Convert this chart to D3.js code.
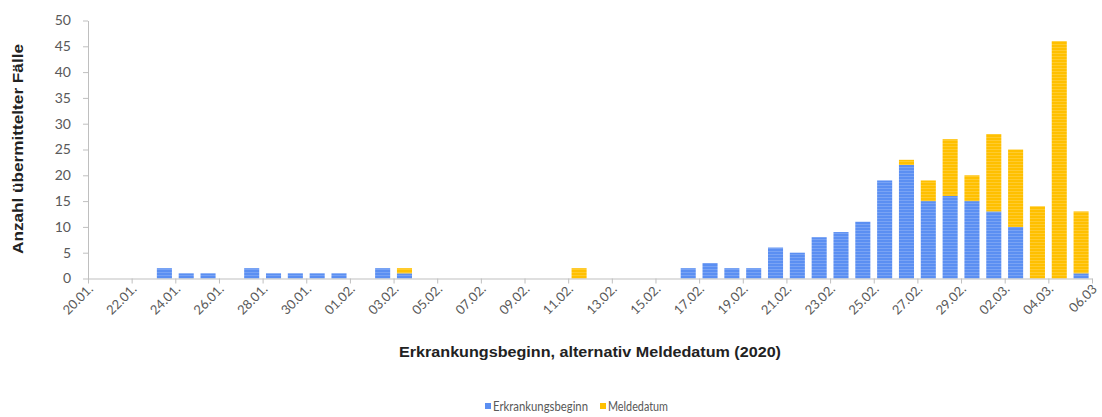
<!DOCTYPE html>
<html>
<head>
<meta charset="utf-8">
<script src="https://cdn.jsdelivr.net/npm/d3@7/dist/d3.min.js"></script>
<style>
  html, body { margin: 0; padding: 0; background: #fff; }
  svg { display: block; }
</style>
</head>
<body>
<svg id="chart" width="1102" height="417"></svg>
<script>
// ---- data ----
const dates = [
  "20.01.","21.01.","22.01.","23.01.","24.01.","25.01.","26.01.","27.01.","28.01.","29.01.",
  "30.01.","31.01.","01.02.","02.02.","03.02.","04.02.","05.02.","06.02.","07.02.","08.02.",
  "09.02.","10.02.","11.02.","12.02.","13.02.","14.02.","15.02.","16.02.","17.02.","18.02.",
  "19.02.","20.02.","21.02.","22.02.","23.02.","24.02.","25.02.","26.02.","27.02.","28.02.",
  "29.02.","01.03.","02.03.","03.03.","04.03.","05.03."
];
const erkrankungsbeginn = [
  0,0,0,2,1,1,0,2,1,1,
  1,1,0,2,1,0,0,0,0,0,
  0,0,0,0,0,0,0,2,3,2,
  2,6,5,8,9,11,19,22,15,16,
  15,13,10,0,0,1
];
const meldedatum = [
  0,0,0,0,0,0,0,0,0,0,
  0,0,0,0,1,0,0,0,0,0,
  0,0,2,0,0,0,0,0,0,0,
  0,0,0,0,0,0,0,1,4,11,
  5,15,15,14,46,12
];
const tickLabels = [
  "20.01.","22.01.","24.01.","26.01.","28.01.","30.01.","01.02.","03.02.","05.02.","07.02.",
  "09.02.","11.02.","13.02.","15.02.","17.02.","19.02.","21.02.","23.02.","25.02.","27.02.",
  "29.02.","02.03.","04.03.","06.03"
];
const yTicks = [0,5,10,15,20,25,30,35,40,45,50];
const seriesNames = ["Erkrankungsbeginn", "Meldedatum"];
const colors = ["#5B8FF2", "#FFC000"];

// ---- layout ----
const svg = d3.select("#chart");
const x0 = 88, x1 = 1092, yBase = 278.5, yTop = 20.5;

// striped fills (the reference bars show fine horizontal lines)
const defs = svg.append("defs");
colors.forEach((c, k) => {
  const p = defs.append("pattern").attr("id", "fill" + k)
    .attr("patternUnits", "userSpaceOnUse").attr("width", 4).attr("height", 3);
  p.append("rect").attr("width", 4).attr("height", 3).attr("fill", c);
  p.append("rect").attr("y", 2).attr("width", 4).attr("height", 1).attr("fill", "#fff").attr("opacity", 0.18);
});

const x = d3.scaleBand().domain(d3.range(dates.length)).range([x0, x1]).paddingInner(0.31).paddingOuter(0.155);
const xTickScale = d3.scaleLinear().domain([0, dates.length]).range([x0, x1]);
const y = d3.scaleLinear().domain([0, 50]).range([yBase, yTop]);

const table = dates.map((d, i) => ({ i, date: d, Erkrankungsbeginn: erkrankungsbeginn[i], Meldedatum: meldedatum[i] }));
const stacked = d3.stack().keys(seriesNames)(table);

// bars
svg.append("g").selectAll("g").data(stacked).join("g")
  .attr("fill", (d, k) => `url(#fill${k})`)
  .selectAll("rect").data(d => d.filter(p => p[1] - p[0] > 0)).join("rect")
  .attr("x", p => x(p.data.i))
  .attr("width", x.bandwidth())
  .attr("y", p => y(p[1]))
  .attr("height", p => y(p[0]) - y(p[1]));

// y axis
const yAxis = svg.append("g").attr("transform", `translate(${x0},0)`)
  .call(d3.axisLeft(y).tickValues(yTicks).tickSize(5).tickPadding(12).tickSizeOuter(0));
yAxis.select(".domain").attr("stroke", "#bfbfbf");
yAxis.selectAll(".tick line").attr("stroke", "#bfbfbf");
yAxis.selectAll(".tick text").attr("fill", "#595959").attr("font-family", "Lato, 'Open Sans', sans-serif").attr("font-size", 14);

// x axis
const xAxis = svg.append("g").attr("transform", `translate(0,${yBase})`)
  .call(d3.axisBottom(xTickScale)
    .tickValues(d3.range(0, dates.length + 1, 2))
    .tickFormat((v, k) => tickLabels[k])
    .tickSize(5).tickSizeOuter(0));
xAxis.select(".domain").attr("stroke", "#bfbfbf");
xAxis.selectAll(".tick line").attr("stroke", "#bfbfbf");
xAxis.selectAll(".tick text")
  .attr("fill", "#595959")
  .attr("font-family", "Lato, 'Open Sans', sans-serif")
  .attr("font-size", 13)
  .attr("text-anchor", "end")
  .attr("dy", null)
  .attr("transform", "translate(3,9) rotate(-45)")
  .attr("y", 0).attr("x", 0).attr("dominant-baseline", "middle");

// axis titles
svg.append("text")
  .attr("transform", `translate(19,149) rotate(-90)`)
  .attr("text-anchor", "middle")
  .attr("dominant-baseline", "middle")
  .attr("font-family", "'Liberation Sans', Arial, sans-serif")
  .attr("font-weight", "bold")
  .attr("font-size", 14)
  .attr("textLength", 210)
  .attr("lengthAdjust", "spacingAndGlyphs")
  .attr("fill", "#222")
  .text("Anzahl übermittelter Fälle");

svg.append("text")
  .attr("x", 590).attr("y", 357)
  .attr("text-anchor", "middle")
  .attr("font-family", "'Liberation Sans', Arial, sans-serif")
  .attr("font-weight", "bold")
  .attr("font-size", 14)
  .attr("textLength", 382)
  .attr("lengthAdjust", "spacingAndGlyphs")
  .attr("fill", "#222")
  .text("Erkrankungsbeginn, alternativ Meldedatum (2020)");

// legend
const legend = svg.append("g").attr("font-family", "Lato, 'Open Sans', sans-serif").attr("font-size", 12.5).attr("fill", "#595959");
const legendX = [485, 600];
const legendTextLen = [95, 60];
seriesNames.forEach((name, k) => {
  const g = legend.append("g").attr("transform", `translate(${legendX[k]},407)`);
  g.append("rect").attr("x", 0).attr("y", -4).attr("width", 6).attr("height", 6).attr("fill", colors[k]);
  g.append("text").attr("x", 8).attr("y", 0).attr("dy", "0.32em")
    .attr("textLength", legendTextLen[k]).attr("lengthAdjust", "spacingAndGlyphs").text(name);
});
</script>
</body>
</html>
